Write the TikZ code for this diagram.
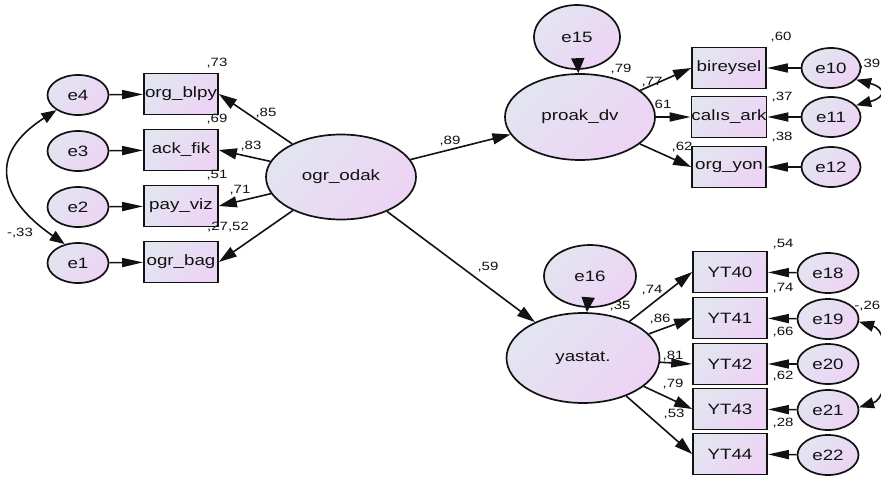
\documentclass[tikz,border=0pt]{standalone}
\usepackage{fontspec}
\setmainfont{Liberation Sans}[FakeStretch=1.25]
\usetikzlibrary{shapes.geometric,arrows.meta}
\definecolor{fillA}{RGB}{226,229,240}
\definecolor{fillB}{RGB}{237,211,245}
\definecolor{ink}{RGB}{18,18,18}
\begin{document}
\begin{tikzpicture}[x=1pt,y=-1pt,
  shadefill/.style={left color=fillA,right color=fillB,shading angle=45},
  latent/.style={ellipse,draw=ink,line width=1.7pt,shadefill,inner sep=0pt,
    text=ink,font=\fontsize{15}{15}\selectfont},
  errv/.style={latent,minimum width=61pt,minimum height=40pt},
  obs/.style={rectangle,draw=ink,line width=1.7pt,shadefill,inner sep=0pt,
    text=ink,minimum width=74pt,minimum height=41pt,font=\fontsize{15}{15}\selectfont},
  coef/.style={inner sep=0pt,text=ink,font=\fontsize{12}{12}\selectfont},
  htip/.tip={Triangle[length=21pt,width=9pt]},
  dtip/.tip={Triangle[length=18pt,width=11pt]},
  vtip/.tip={Triangle[length=15pt,width=13pt]},
  ctip/.tip={Triangle[length=15pt,width=11pt]},
  harr/.style={draw=ink,line width=1.6pt,-htip},
  darr/.style={draw=ink,line width=1.6pt,-dtip},
  varr/.style={draw=ink,line width=1.6pt,-vtip},
  cov/.style={draw=ink,line width=1.6pt,ctip-ctip},
]
\useasboundingbox[fill=white] (0,0) rectangle (881,479);

% ---------- exogenous block: ogr_odak ----------
\node[errv] (e4) at (78,95) {e4};
\node[errv] (e3) at (78,151) {e3};
\node[errv] (e2) at (78,207) {e2};
\node[errv] (e1) at (78,263) {e1};
\node[obs] (blpy) at (181,94) {org\_blpy};
\node[obs] (fik) at (181,150) {ack\_fik};
\node[obs] (viz) at (181,206) {pay\_viz};
\node[obs] (bag) at (181,262) {ogr\_bag};
\node[latent,minimum width=150pt,minimum height=85pt] (odak) at (341,177) {ogr\_odak};

% ---------- proak_dv block ----------
\node[latent,minimum width=150pt,minimum height=86pt] (proak) at (580,117) {proak\_dv};
\node[latent,minimum width=86pt,minimum height=64pt] (e15) at (577,37) {e15};
\node[obs] (birey) at (729,68) {bireysel};
\node[obs] (calis) at (729,117) {calıs\_ark};
\node[obs] (orgyon) at (729,167) {org\_yon};
\node[errv,minimum width=59pt] (e10) at (831,68) {e10};
\node[errv,minimum width=59pt] (e11) at (831,117) {e11};
\node[errv,minimum width=59pt] (e12) at (831,167) {e12};

% ---------- yastat. block ----------
\node[latent,minimum width=153pt,minimum height=90pt] (yas) at (583,358) {yastat.};
\node[latent,minimum width=92pt,minimum height=62pt] (e16) at (590,276) {e16};
\node[obs] (yt40) at (730,272) {YT40};
\node[obs] (yt41) at (730,318) {YT41};
\node[obs] (yt42) at (730,364) {YT42};
\node[obs] (yt43) at (730,409) {YT43};
\node[obs] (yt44) at (730,454) {YT44};
\node[errv] (e18) at (828,273) {e18};
\node[errv] (e19) at (828,319) {e19};
\node[errv] (e20) at (828,364) {e20};
\node[errv] (e21) at (828,410) {e21};
\node[errv] (e22) at (828,455) {e22};

% ---------- paths ----------
\draw[harr] (e4) -- (blpy);
\draw[harr] (e3) -- (fik);
\draw[harr] (e2) -- (viz);
\draw[harr] (e1) -- (bag);
\draw[darr] (odak) -- (blpy.east);
\draw[darr] (odak) -- (fik.east);
\draw[darr] (odak) -- (viz.east);
\draw[darr] (odak) -- (bag.east);
\draw[darr] (odak) -- (proak);
\draw[darr] (odak) -- (yas);

\draw[varr] (e15) -- (proak);
\draw[darr] (proak) -- (birey.west);
\draw[harr] (proak) -- (calis.west);
\draw[darr] (proak) -- (orgyon.west);
\draw[harr] (e10) -- (birey);
\draw[harr] (e11) -- (calis);
\draw[harr] (e12) -- (orgyon);

\draw[varr] (e16) -- (yas);
\draw[darr] (yas) -- (yt40.west);
\draw[darr] (yas) -- (yt41.west);
\draw[harr] (yas) -- (yt42.west);
\draw[darr] (yas) -- (yt43.west);
\draw[darr] (yas) -- (yt44.west);
\draw[harr] (e18) -- (yt40);
\draw[harr] (e19) -- (yt41);
\draw[harr] (e20) -- (yt42);
\draw[harr] (e21) -- (yt43);
\draw[harr] (e22) -- (yt44);

% ---------- covariances ----------
\draw[cov] (e4.215) .. controls +(-70,45) and +(-65,-45) .. (e1.125);
\draw[cov] (e10.-25) .. controls +(30,8) and +(30,-8) .. (e11.25);
\draw[cov] (e19.-5) .. controls +(32,10) and +(32,-10) .. (e21.5);

% ---------- estimates ----------
\node[coef] (c73) at (217,63) {,73};
\node[coef] (c69) at (217,119) {,69};
\node[coef] (c51) at (217,175) {,51};
\node[coef] (c2752) at (228,227) {,27,52};
\node[coef] (c85) at (266,113) {,85};
\node[coef] (c83) at (251,146) {,83};
\node[coef] (c71) at (240,190) {,71};
\node[coef] (c33) at (20,233) {-,33};
\node[coef] (c89) at (450,141) {,89};
\node[coef] (c59) at (488,267) {,59};

\node[coef] (c79a) at (621,69) {,79};
\node[coef] (c77) at (652,82) {,77};
\node[coef] (c61) at (663,104) {61};
\node[coef] (c62a) at (682,147) {,62};
\node[coef] (c60) at (781,37) {,60};
\node[coef] (c37) at (782,97) {,37};
\node[coef] (c38) at (782,137) {,38};
\node[coef,anchor=east] (c39) at (880.5,64) {,39};

\node[coef] (c35) at (620,306) {,35};
\node[coef] (c74a) at (652,290) {,74};
\node[coef] (c86) at (660,319) {,86};
\node[coef] (c81) at (673,356) {,81};
\node[coef] (c79b) at (673,384) {,79};
\node[coef] (c53) at (674,414) {,53};
\node[coef] (c54) at (783,244) {,54};
\node[coef] (c74b) at (783,288) {,74};
\node[coef] (c66) at (783,332) {,66};
\node[coef] (c62b) at (783,376) {,62};
\node[coef] (c28) at (783,423) {,28};
\node[coef,anchor=east] (c26) at (880.5,306) {-,26};
\end{tikzpicture}
\end{document}
